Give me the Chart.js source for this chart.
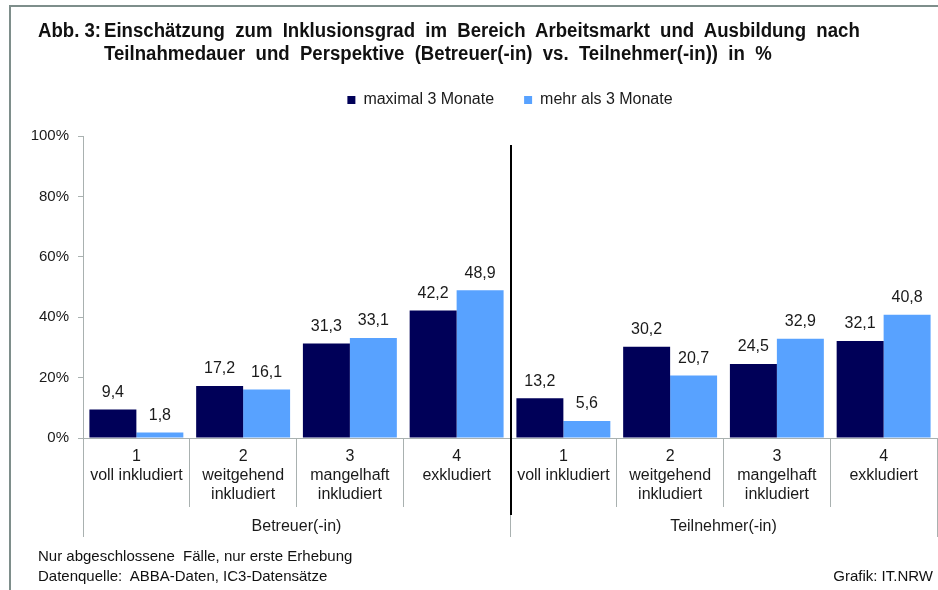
<!DOCTYPE html>
<html>
<head>
<meta charset="utf-8">
<script src="https://cdn.jsdelivr.net/npm/chart.js@4.4.1/dist/chart.umd.min.js"></script>
<style>
  html, body { margin: 0; padding: 0; background: #fff; }
  #wrap { position: relative; width: 938px; height: 590px; overflow: hidden; background: #fff; }
  #frame { position: absolute; left: 9px; top: 5px; right: -5px; bottom: -5px; border-top: 2px solid #7E8E8B; border-left: 2px solid #7E8E8B; }
  canvas { position: absolute; left: 0; top: 0; }
  #title { position: absolute; left: 38px; top: 19px; display: flex; font-family: "Liberation Sans", Arial, sans-serif; font-weight: bold; font-size: 20px; line-height: 23px; color: #111; white-space: nowrap; word-spacing: 5.5px; transform: scaleX(0.93); transform-origin: 0 0; }
  #title .num { width: 71px; word-spacing: 0; }
  .note { position: absolute; font-family: "Liberation Sans", Arial, sans-serif; font-size: 15px; line-height: 20px; color: #111; white-space: pre; }
</style>
</head>
<body>
<div id="wrap">
  <canvas id="c" width="938" height="590"></canvas>
  <div id="frame"></div>
  <div id="title"><span class="num">Abb. 3:</span><div>Einschätzung zum Inklusionsgrad im Bereich Arbeitsmarkt und Ausbildung nach<br>Teilnahmedauer und Perspektive (Betreuer(-in) vs. Teilnehmer(-in)) in %</div></div>
  <div class="note" style="left:38px; top:546px;">Nur abgeschlossene  Fälle, nur erste Erhebung<br>Datenquelle:  ABBA-Daten, IC3-Datensätze</div>
  <div class="note" style="right:5px; top:566px;">Grafik: IT.NRW</div>
</div>
<script>
// ---- data ----
const categories = [
  ['1', 'voll inkludiert'],
  ['2', 'weitgehend', 'inkludiert'],
  ['3', 'mangelhaft', 'inkludiert'],
  ['4', 'exkludiert'],
  ['1', 'voll inkludiert'],
  ['2', 'weitgehend', 'inkludiert'],
  ['3', 'mangelhaft', 'inkludiert'],
  ['4', 'exkludiert']
];
const groups = ['Betreuer(-in)', 'Teilnehmer(-in)'];
const seriesNames = ['maximal 3 Monate', 'mehr als 3 Monate'];
const maxThreeMonths = [9.4, 17.2, 31.3, 42.2, 13.2, 30.2, 24.5, 32.1];
const moreThanThreeMonths = [1.8, 16.1, 33.1, 48.9, 5.6, 20.7, 32.9, 40.8];
const yTickValues = [0, 20, 40, 60, 80, 100];

// ---- styles ----
const DARK = '#000058';
const LIGHT = '#58A2FF';
const GRID = '#A9B1B0';
const TEXT = '#1a1a1a';
const FONT = '"Liberation Sans", Arial, sans-serif';

const valueLabels = {
  id: 'valueLabels',
  afterDatasetsDraw(chart) {
    const ctx = chart.ctx;
    ctx.save();
    ctx.font = '16px ' + FONT;
    ctx.fillStyle = TEXT;
    ctx.textAlign = 'center';
    ctx.textBaseline = 'middle';
    chart.data.datasets.forEach((ds, i) => {
      const meta = chart.getDatasetMeta(i);
      meta.data.forEach((bar, j) => {
        const txt = ds.data[j].toFixed(1).replace('.', ',');
        ctx.fillText(txt, bar.x, bar.y - 17);
      });
    });
    ctx.restore();
  }
};

const divider = {
  id: 'divider',
  afterDraw(chart) {
    const xs = chart.scales.x, ys = chart.scales.y;
    const half = categories.length / 2;
    const px = (xs.getPixelForValue(half - 1) + xs.getPixelForValue(half)) / 2 + 1;
    const ctx = chart.ctx;
    ctx.save();
    ctx.strokeStyle = '#000';
    ctx.lineWidth = 2;
    ctx.beginPath();
    ctx.moveTo(px, ys.getPixelForValue(97));
    ctx.lineTo(px, chart.chartArea.bottom + 77);
    ctx.stroke();
    ctx.restore();
  }
};

new Chart(document.getElementById('c'), {
  type: 'bar',
  data: {
    labels: categories,
    datasets: [
      { label: seriesNames[0], data: maxThreeMonths, backgroundColor: DARK, xAxisID: 'x', yAxisID: 'y', categoryPercentage: 0.88, barPercentage: 1.0 },
      { label: seriesNames[1], data: moreThanThreeMonths, backgroundColor: LIGHT, xAxisID: 'x', yAxisID: 'y', categoryPercentage: 0.88, barPercentage: 1.0 }
    ]
  },
  options: {
    responsive: false,
    animation: false,
    layout: { padding: { top: 62, right: 1, bottom: 0, left: 0 } },
    plugins: {
      legend: {
        position: 'top',
        fullSize: false,
        labels: { boxWidth: 8, boxHeight: 8, padding: 30, color: TEXT, font: { family: FONT, size: 16 } }
      },
      tooltip: { enabled: false },
      title: { display: false }
    },
    scales: {
      spacer: {
        type: 'category', position: 'top', labels: [''],
        grid: { display: false }, border: { display: false }, ticks: { display: false },
        afterFit(s) { s.height = 18; }
      },
      y: {
        min: 0, max: 100,
        afterBuildTicks(s) { s.ticks = yTickValues.map(v => ({ value: v })); },
        ticks: { callback: v => v + '%', color: TEXT, font: { family: FONT, size: 15 }, padding: 9 },
        grid: { drawOnChartArea: false, tickLength: 5, color: GRID },
        border: { color: GRID },
        afterFit(s) { s.width = 83; }
      },
      x: {
        weight: 0,
        grid: { offset: true, drawOnChartArea: false, tickLength: 69, color: GRID },
        border: { color: GRID },
        ticks: { color: TEXT, font: { family: FONT, size: 16 }, padding: -60, maxRotation: 0, autoSkip: false },
        afterFit(s) { s.height = 69; }
      },
      x2: {
        type: 'category', position: 'bottom', weight: 1, labels: groups, offset: true,
        grid: { offset: true, drawOnChartArea: false, tickLength: 30, color: GRID },
        border: { display: false },
        ticks: { color: TEXT, font: { family: FONT, size: 16 }, padding: -20, maxRotation: 0 },
        afterFit(s) { s.height = 83; }
      }
    }
  },
  plugins: [valueLabels, divider]
});
</script>
</body>
</html>
